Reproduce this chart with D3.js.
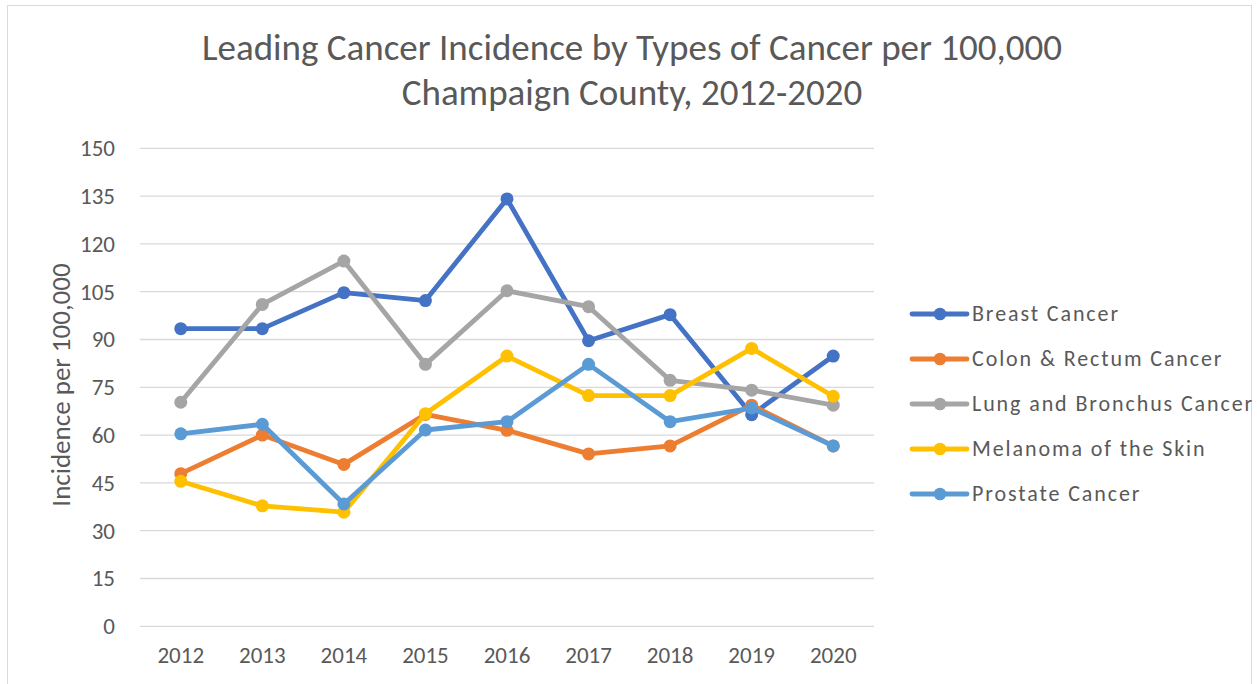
<!DOCTYPE html>
<html><head><meta charset="utf-8">
<script src="https://cdn.jsdelivr.net/npm/d3@7"></script>
<style>body{margin:0;background:#fff;}svg{display:block;}</style>
</head><body>
<svg id="c" width="1257" height="684"></svg>
<script>
const years = ["2012","2013","2014","2015","2016","2017","2018","2019","2020"];
const seriesNames = ["Breast Cancer","Colon & Rectum Cancer","Lung and Bronchus Cancer","Melanoma of the Skin","Prostate Cancer"];
const breast   = [93.4, 93.4, 104.7, 102.2, 134.1, 89.6, 97.8, 66.4, 84.8];
const colon    = [47.9, 60.0, 50.8, 66.5, 61.5, 54.1, 56.6, 69.4, 56.6];
const lung     = [70.3, 101.0, 114.6, 82.2, 105.3, 100.3, 77.2, 74.1, 69.4];
const melanoma = [45.5, 37.8, 35.8, 66.7, 84.8, 72.4, 72.4, 87.2, 72.2];
const prostate = [60.4, 63.4, 38.4, 61.6, 64.2, 82.2, 64.2, 68.5, 56.6];
const yTicks = [0,15,30,45,60,75,90,105,120,135,150];
const colors = ["#4472C4","#ED7D31","#A5A5A5","#FFC000","#5B9BD5"];
const titleLines = ["Leading Cancer Incidence by Types of Cancer per 100,000","Champaign County, 2012-2020"];
const yTitle = "Incidence per 100,000";

const data = [breast, colon, lung, melanoma, prostate];
const svg = d3.select("#c");
const font = "Calibri, Carlito, 'Open Sans', sans-serif";
const textCol = "#595959";

// chart border
svg.append("rect").attr("x",7.5).attr("y",5.5).attr("width",1244).attr("height",690)
  .attr("fill","none").attr("stroke","#d9d9d9").attr("stroke-width",1);

const pLeft = 140, pRight = 874, pTop = 148.3, pBottom = 626.3;
const x = d3.scaleBand().domain(years).range([pLeft,pRight]);
const y = d3.scaleLinear().domain([0,150]).range([pBottom,pTop]);

// grid
svg.append("g").selectAll("line").data(yTicks).join("line")
  .attr("x1",pLeft).attr("x2",pRight)
  .attr("y1",d=>y(d)).attr("y2",d=>y(d))
  .attr("stroke","#d9d9d9").attr("stroke-width",1.3);

// y axis
const ya = svg.append("g").attr("transform",`translate(${pLeft-25},0)`)
  .call(d3.axisLeft(y).tickValues(yTicks).tickSize(0).tickPadding(0));
ya.select(".domain").remove();
ya.selectAll("text").attr("font-family",font).attr("font-size",23).attr("fill",textCol);

// x axis
const xa = svg.append("g").attr("transform",`translate(0,0)`)
  .call(d3.axisBottom(x).tickSize(0).tickPadding(0));
xa.select(".domain").remove();
xa.selectAll("text").attr("font-family",font).attr("font-size",23).attr("fill",textCol)
  .attr("y",663).attr("dy",0);

// title
svg.append("g").selectAll("text").data(titleLines).join("text")
  .attr("x",632).attr("y",(d,i)=>59.5+i*45.5)
  .attr("text-anchor","middle").attr("font-family",font).attr("font-size",37)
  .attr("fill",textCol).text(d=>d);

// y title
svg.append("text").attr("transform","translate(70,385) rotate(-90)")
  .attr("text-anchor","middle").attr("font-family",font).attr("font-size",27)
  .attr("fill",textCol).text(yTitle);

// lines
const line = d3.line().x((d,i)=>x(years[i])+x.bandwidth()/2).y(d=>y(d));
data.forEach((vals,si)=>{
  const g = svg.append("g");
  g.append("path").attr("d",line(vals)).attr("fill","none")
    .attr("stroke",colors[si]).attr("stroke-width",4.8).attr("stroke-linejoin","round");
  g.selectAll("circle").data(vals).join("circle")
    .attr("cx",(d,i)=>x(years[i])+x.bandwidth()/2).attr("cy",d=>y(d))
    .attr("r",6.5).attr("fill",colors[si]);
});

// legend
const lg = svg.append("g");
seriesNames.forEach((n,i)=>{
  const yy = 314 + i*45;
  lg.append("line").attr("x1",912).attr("x2",967).attr("y1",yy).attr("y2",yy)
    .attr("stroke",colors[i]).attr("stroke-width",4.8).attr("stroke-linecap","round");
  lg.append("circle").attr("cx",940).attr("cy",yy).attr("r",6.3).attr("fill",colors[i]);
  lg.append("text").attr("x",972).attr("y",yy).attr("dy","0.33em")
    .attr("font-family",font).attr("font-size",22).attr("letter-spacing","1.9px")
    .attr("fill",textCol).text(n);
});
</script>
</body></html>
